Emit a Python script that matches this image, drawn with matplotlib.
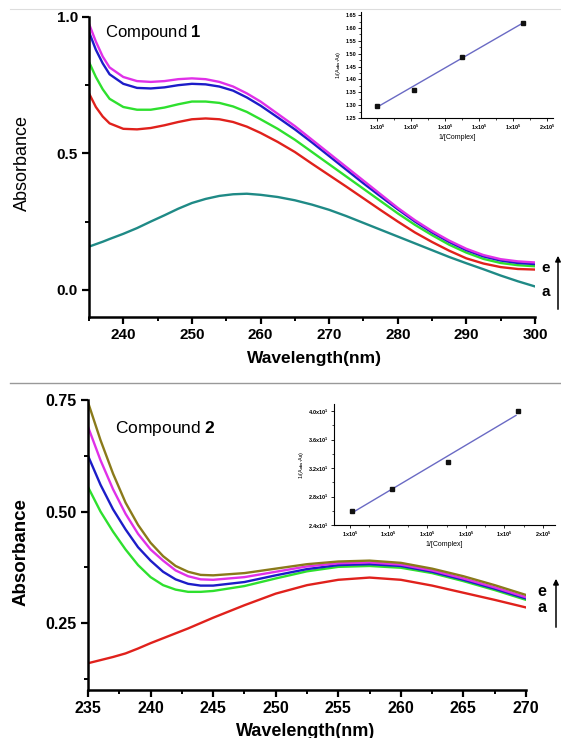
import matplotlib
matplotlib.use('Agg')
import numpy as np
import matplotlib.pyplot as plt
from matplotlib.lines import Line2D
from matplotlib.ticker import MultipleLocator, FixedLocator

plt.rcParams['font.family'] = ['Liberation Sans', 'DejaVu Sans']
plt.rcParams['font.weight'] = 'bold'
plt.rcParams['mathtext.fontset'] = 'custom'
plt.rcParams['mathtext.rm'] = 'Liberation Sans'
plt.rcParams['mathtext.bf'] = 'Liberation Sans:bold'
plt.rcParams['mathtext.it'] = 'Liberation Sans:italic'

# ---- compound 1 spectra ----
wl1 = [235, 236, 237, 238, 240, 242, 244, 246, 248, 250, 252, 254, 256, 258, 260,
       262.5, 265, 267.5, 270, 272.5, 275, 277.5, 280, 282.5, 285, 287.5, 290,
       292.5, 295, 297.5, 300]
c1_a = [0.158, 0.167, 0.176, 0.186, 0.205, 0.226, 0.25, 0.273, 0.297, 0.318, 0.333,
        0.344, 0.35, 0.352, 0.348, 0.34, 0.328, 0.312, 0.293, 0.27, 0.245, 0.22, 0.195,
        0.17, 0.145, 0.12, 0.097, 0.075, 0.052, 0.031, 0.012]
c1_b = [0.72, 0.67, 0.635, 0.61, 0.59, 0.588, 0.593, 0.603, 0.615, 0.625, 0.628, 0.625,
        0.615, 0.598, 0.575, 0.542, 0.505, 0.462, 0.42, 0.378, 0.335, 0.292, 0.25, 0.21,
        0.175, 0.143, 0.115, 0.096, 0.083, 0.076, 0.074]
c1_c = [0.835, 0.78, 0.735, 0.70, 0.67, 0.66, 0.66, 0.668, 0.68, 0.69, 0.69, 0.685,
        0.672, 0.652, 0.625, 0.59, 0.55, 0.505, 0.46, 0.415, 0.37, 0.325, 0.28, 0.238,
        0.2, 0.165, 0.136, 0.113, 0.098, 0.09, 0.086]
c1_d = [0.945, 0.88, 0.83, 0.79, 0.755, 0.74, 0.738, 0.742, 0.75, 0.755, 0.753, 0.745,
        0.73, 0.705, 0.675, 0.632, 0.588, 0.54, 0.49, 0.44, 0.39, 0.342, 0.295, 0.25,
        0.21, 0.175, 0.145, 0.122, 0.107, 0.098, 0.094]
c1_e = [0.975, 0.91, 0.855, 0.815, 0.78, 0.765, 0.762, 0.765, 0.772, 0.775, 0.772,
        0.762, 0.745, 0.72, 0.69, 0.645, 0.6, 0.55, 0.50, 0.45, 0.40, 0.35, 0.30, 0.255,
        0.215, 0.18, 0.15, 0.127, 0.112, 0.104, 0.10]
colors1 = ['#1f8a86', '#e0211c', '#2ee02e', '#1c1cc8', '#e030e8']

# ---- compound 2 spectra ----
wl2 = [235, 236, 237, 238, 239, 240, 241, 242, 243, 244, 245, 247.5, 250, 252.5,
       255, 257.5, 260, 262.5, 265, 267.5, 270]
c2_a = [0.16, 0.167, 0.174, 0.182, 0.193, 0.205, 0.216, 0.227, 0.238, 0.25, 0.262,
        0.29, 0.316, 0.335, 0.347, 0.352, 0.347, 0.334, 0.318, 0.302, 0.285]
c2_b = [0.555, 0.5, 0.455, 0.415, 0.38, 0.353, 0.335, 0.325, 0.32, 0.32, 0.322,
        0.333, 0.35, 0.366, 0.376, 0.378, 0.374, 0.362, 0.344, 0.324, 0.302]
c2_c = [0.625, 0.56, 0.505, 0.46, 0.42, 0.39, 0.365, 0.348, 0.338, 0.334, 0.334,
        0.342, 0.357, 0.371, 0.38, 0.382, 0.378, 0.365, 0.347, 0.327, 0.305]
c2_d = [0.69, 0.615, 0.55, 0.495, 0.45, 0.415, 0.39, 0.368, 0.355, 0.348, 0.347,
        0.353, 0.365, 0.377, 0.384, 0.386, 0.381, 0.368, 0.35, 0.33, 0.308]
c2_e = [0.745, 0.66, 0.585, 0.52, 0.47, 0.43, 0.40, 0.378, 0.365, 0.358, 0.357,
        0.362, 0.372, 0.382, 0.388, 0.39, 0.385, 0.372, 0.355, 0.335, 0.313]
colors2 = ['#e0211c', '#2ee02e', '#1c1cc8', '#e030e8', '#8a7a1a']

# ---- insets: 1/(A_obs - A_0) vs 1/[Complex] ----
ins1_x = [1.0e5, 1.22e5, 1.5e5, 1.86e5]
ins1_y = [1.297, 1.357, 1.487, 1.62]
fit1_x = [1.0e5, 1.86e5]
fit1_y = [1.292, 1.62]
ins2_x = [1.01e5, 1.22e5, 1.51e5, 1.87e5]
ins2_y = [2.60, 2.90, 3.29, 4.00]
fit2_x = [1.01e5, 1.86e5]
fit2_y = [2.57, 3.94]
ins_xticks = [1.0e5, 1.2e5, 1.4e5, 1.6e5, 1.8e5, 2.0e5]
ins_xlabels = [r'1x10$^5$'] * 5 + [r'2x10$^5$']
ins1_yticks = [1.25, 1.30, 1.35, 1.40, 1.45, 1.50, 1.55, 1.60, 1.65]
ins2_yticks = [2.4, 2.8, 3.2, 3.6, 4.0]
ins2_ylabels = [r'2.4x10$^1$', r'2.8x10$^1$', r'3.2x10$^1$', r'3.6x10$^1$', r'4.0x10$^1$']

W, H = 561, 738
fig = plt.figure(figsize=(W / 100, H / 100), dpi=100)


def box(l, t, r, b):
    return [l / W, 1 - b / H, (r - l) / W, (b - t) / H]


def style_main(ax, size):
    for s in ['top', 'right']:
        ax.spines[s].set_visible(False)
    for s in ['left', 'bottom']:
        ax.spines[s].set_linewidth(1.8)
    ax.tick_params(which='major', length=5, width=1.6, labelsize=size, pad=3)
    ax.tick_params(which='minor', length=3, width=1.4)


# top panel
ax1 = fig.add_axes(box(89, 17, 535, 317))
for y, c in zip([c1_a, c1_b, c1_c, c1_d, c1_e], colors1):
    ax1.plot(wl1, y, color=c, lw=1.7)
ax1.set_xlim(235, 300)
ax1.set_ylim(-0.1, 1.0)
ax1.xaxis.set_major_locator(FixedLocator([240, 250, 260, 270, 280, 290, 300]))
ax1.xaxis.set_minor_locator(MultipleLocator(5))
ax1.yaxis.set_major_locator(FixedLocator([0.0, 0.5, 1.0]))
ax1.yaxis.set_minor_locator(FixedLocator([0.25, 0.75]))
ax1.yaxis.set_major_formatter(plt.FuncFormatter(lambda v, p: f'{v:.1f}'))
style_main(ax1, 11)

fig.text(22 / W, 1 - 163 / H, 'Absorbance', rotation=90, ha='center', va='center',
         fontsize=13, fontweight='normal')
fig.text(314 / W, 1 - 358 / H, 'Wavelength(nm)', ha='center', va='center', fontsize=12.5)
fig.text(105 / W, 1 - 32 / H, r'Compound $\mathbf{1}$', ha='left', va='center',
         fontsize=12, fontweight='normal')
fig.text(546 / W, 1 - 268 / H, 'e', ha='center', va='center', fontsize=11)
fig.text(546 / W, 1 - 292 / H, 'a', ha='center', va='center', fontsize=11)
ax1.annotate('', xy=(558 / W, 1 - 253 / H), xytext=(558 / W, 1 - 312 / H),
             xycoords='figure fraction', textcoords='figure fraction',
             arrowprops=dict(arrowstyle='-|>', lw=1.1, color='k', mutation_scale=8),
             annotation_clip=False)

# bottom panel
ax2 = fig.add_axes(box(88, 400, 526, 690))
for y, c in zip([c2_a, c2_b, c2_c, c2_d, c2_e], colors2):
    ax2.plot(wl2, y, color=c, lw=1.7)
ax2.set_xlim(235, 270)
ax2.set_ylim(0.10, 0.75)
ax2.xaxis.set_major_locator(MultipleLocator(5))
ax2.xaxis.set_minor_locator(MultipleLocator(2.5))
ax2.yaxis.set_major_locator(FixedLocator([0.25, 0.50, 0.75]))
ax2.yaxis.set_minor_locator(FixedLocator([0.125, 0.375, 0.625]))
ax2.yaxis.set_major_formatter(plt.FuncFormatter(lambda v, p: f'{v:.2f}'))
style_main(ax2, 11.5)

fig.text(21 / W, 1 - 552 / H, 'Absorbance', rotation=90, ha='center', va='center',
         fontsize=13.5)
fig.text(306 / W, 1 - 731 / H, 'Wavelength(nm)', ha='center', va='center', fontsize=13)
fig.text(115 / W, 1 - 428 / H, r'Compound $\mathbf{2}$', ha='left', va='center',
         fontsize=12.5, fontweight='normal')
fig.text(542 / W, 1 - 592 / H, 'e', ha='center', va='center', fontsize=11.5)
fig.text(542 / W, 1 - 608 / H, 'a', ha='center', va='center', fontsize=11.5)
ax2.annotate('', xy=(556 / W, 1 - 576 / H), xytext=(556 / W, 1 - 630 / H),
             xycoords='figure fraction', textcoords='figure fraction',
             arrowprops=dict(arrowstyle='-|>', lw=1.1, color='k', mutation_scale=8),
             annotation_clip=False)


def style_inset(ax):
    for s in ['top', 'right']:
        ax.spines[s].set_visible(False)
    for s in ['left', 'bottom']:
        ax.spines[s].set_linewidth(0.8)
    ax.patch.set_alpha(0)
    ax.tick_params(which='major', length=2, width=0.6, labelsize=4, pad=1.5)
    ax.tick_params(which='minor', length=1.2, width=0.5)


# inset 1
in1 = fig.add_axes(box(361, 12, 553, 118))
in1.plot(fit1_x, fit1_y, color='#6a6ac4', lw=1.0)
in1.plot(ins1_x, ins1_y, 's', color='#111111', ms=2.2)
in1.set_xlim(0.906e5, 2.035e5)
in1.set_ylim(1.25, 1.662)
in1.set_xticks(ins_xticks)
in1.set_xticklabels(ins_xlabels)
in1.xaxis.set_minor_locator(MultipleLocator(0.1e5))
in1.set_yticks(ins1_yticks)
in1.set_yticklabels([f'{v:.2f}' for v in ins1_yticks])
in1.yaxis.set_minor_locator(MultipleLocator(0.025))
style_inset(in1)
in1.set_xlabel('1/[Complex]', fontsize=5, labelpad=1)
in1.set_ylabel(r'1/(A$_{obs}$-A$_0$)', fontsize=4, labelpad=1.5, fontweight='normal')

# inset 2
in2 = fig.add_axes(box(334, 404, 555, 525))
in2.plot(fit2_x, fit2_y, color='#6a6ac4', lw=1.0)
in2.plot(ins2_x, ins2_y, 's', color='#111111', ms=2.2)
in2.set_xlim(0.917e5, 2.062e5)
in2.set_ylim(2.4, 4.1)
in2.set_xticks(ins_xticks)
in2.set_xticklabels(ins_xlabels)
in2.xaxis.set_minor_locator(MultipleLocator(0.1e5))
in2.set_yticks(ins2_yticks)
in2.set_yticklabels(ins2_ylabels)
in2.yaxis.set_minor_locator(MultipleLocator(0.2))
style_inset(in2)
in2.set_xlabel('1/[Complex]', fontsize=5, labelpad=1)
in2.set_ylabel(r'1/(A$_{obs}$-A$_0$)', fontsize=4, labelpad=1.5, fontweight='normal')

# thin separators
fig.add_artist(Line2D([10 / W, 1], [1 - 9 / H, 1 - 9 / H], color='#dddddd', lw=0.8))
fig.add_artist(Line2D([10 / W, 1], [1 - 383 / H, 1 - 383 / H], color='#999999', lw=1.0))

fig.savefig('out.png', dpi=100)
